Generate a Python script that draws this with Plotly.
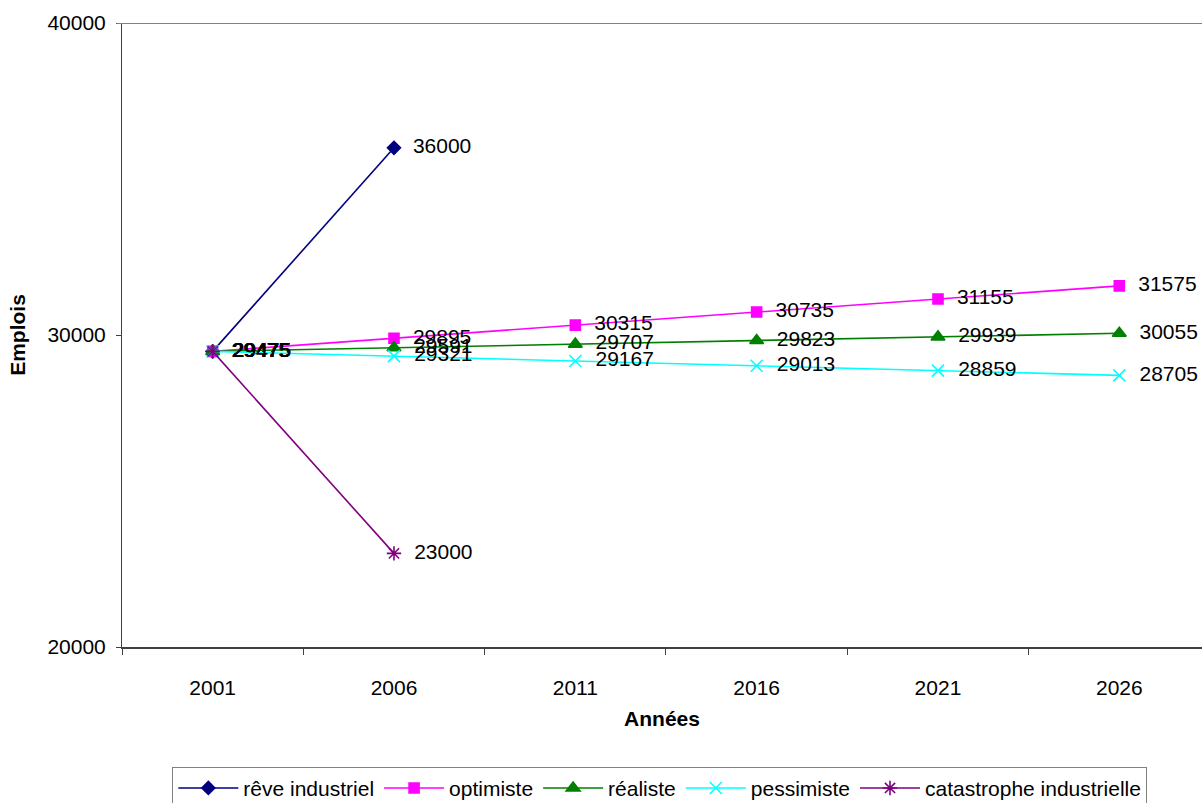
import plotly.graph_objects as go

years = ["2001", "2006", "2011", "2016", "2021", "2026"]
reve = [29475, 36000]
optimiste = [29475, 29895, 30315, 30735, 31155, 31575]
realiste = [29475, 29591, 29707, 29823, 29939, 30055]
pessimiste = [29475, 29321, 29167, 29013, 28859, 28705]
catastrophe = [29475, 23000]

series = [
    ("rêve industriel", reve, "#000080", "diamond", 10),
    ("optimiste", optimiste, "#FF00FF", "square", 10),
    ("réaliste", realiste, "#008000", "triangle-up", 12),
    ("pessimiste", pessimiste, "#00FFFF", "x-thin-open", 12),
    ("catastrophe industrielle", catastrophe, "#800080", "asterisk-open", 12),
]

FONT = "Liberation Sans, Arial, sans-serif"
FS = 21
fig = go.Figure()
for name, vals, color, sym, size in series:
    fig.add_trace(go.Scatter(
        x=years[:len(vals)], y=vals, name=name, mode="lines+markers+text",
        line=dict(color=color, width=1.6),
        marker=dict(symbol=sym, size=size, color=color, line=dict(color=color, width=1.6)),
        text=["  " + str(v) for v in vals], textposition="middle right",
        textfont=dict(family=FONT, size=FS, color="black"),
        cliponaxis=False,
    ))

fig.add_shape(type="line", xref="paper", yref="y", x0=-0.005, x1=1, y0=40000, y1=40000,
              line=dict(color="#808080", width=2))

fig.update_layout(
    width=1202, height=803,
    margin=dict(l=122, r=0, t=23, b=156, autoexpand=False),
    plot_bgcolor="white", paper_bgcolor="white",
    font=dict(family=FONT, size=FS, color="black"),
    showlegend=True,
    legend=dict(orientation="h", x=0.498, xanchor="center", y=-0.192, yanchor="top",
                bordercolor="#808080", borderwidth=1, font=dict(size=FS),
                itemwidth=60),
    xaxis=dict(type="category", categoryorder="array", categoryarray=years,
               range=[-0.5, 5.456], tickson="boundaries", ticks="outside", ticklen=6,
               tickcolor="#404040", showline=True, linecolor="#404040", linewidth=2,
               showgrid=False, zeroline=False, ticklabelstandoff=21, automargin=False,
               title=dict(text="<b>Années</b>", font=dict(size=FS), standoff=13)),
    yaxis=dict(range=[20000, 40000], tickvals=[20000, 30000, 40000],
               ticktext=["20000", "30000", "40000"], ticks="outside",
               ticklen=5, tickcolor="#404040", showline=True, linecolor="#404040",
               linewidth=1, showgrid=False, zeroline=False, ticklabelstandoff=6,
               automargin=False,
               title=dict(text="<b>Emplois</b>", font=dict(size=FS), standoff=16)),
)

fig.write_html("out.html")
